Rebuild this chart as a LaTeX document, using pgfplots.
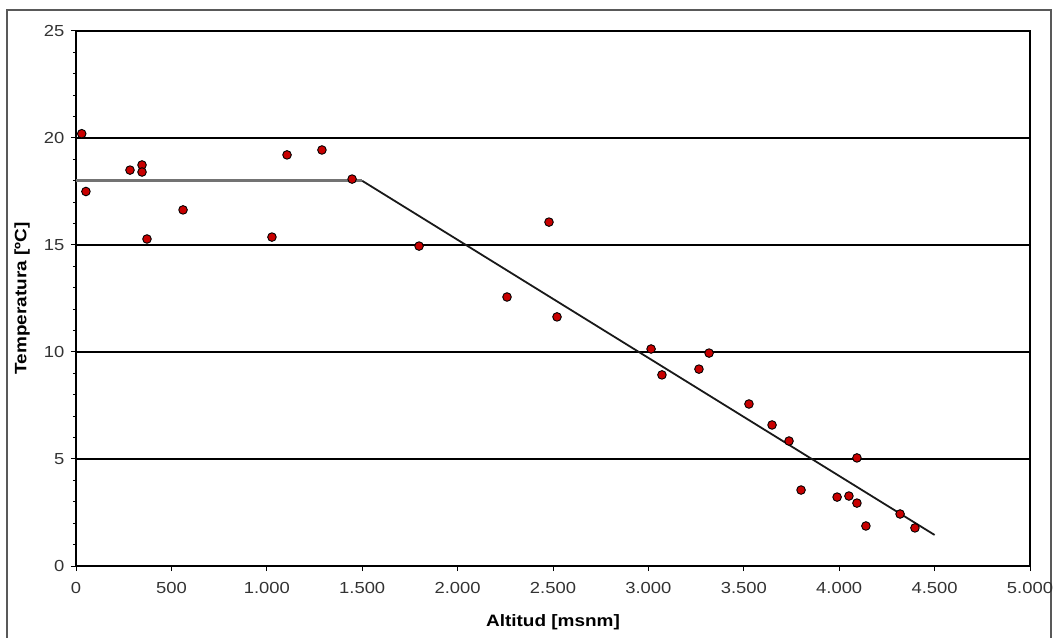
\documentclass[border=0pt]{standalone}
\usepackage{fontspec}
\setmainfont[FakeStretch=1.15]{Liberation Sans}
\usepackage{pgfplots}
\pgfplotsset{compat=1.18}
\definecolor{punto}{RGB}{200,0,0}

\begin{document}
\begin{tikzpicture}
\useasboundingbox (0,0) rectangle (1054pt,637pt);
\draw[line width=1.2pt, black!65] (7pt,-20pt) rectangle (1051pt,627pt);
\begin{axis}[
  at={(76pt,71pt)}, anchor=south west,
  scale only axis, width=954pt, height=535pt,
  xmin=0, xmax=5000, ymin=0, ymax=25,
  xtick={0,500,...,5000}, ytick={0,5,...,25},
  minor y tick num=4,
  xtick pos=left, ytick pos=left,
  tick align=outside,
  major tick length=5pt, minor tick length=3pt,
  tick style={black, line width=1pt},
  axis line style={line width=1.5pt},
  ymajorgrids, grid style={black, line width=1.3pt},
  /pgf/number format/1000 sep={.},
  /pgf/number format/assume math mode=true,
  tick label style={font=\fontsize{16}{18}\selectfont, text=black!80},
  xticklabel style={yshift=-8pt},
  yticklabel style={xshift=-3pt},
  xlabel={Altitud [msnm]},
  ylabel={Temperatura [ºC]},
  every axis x label/.style={at={(axis description cs:0.5,-0.1047)}, anchor=center,
    font=\fontsize{16.5}{19}\selectfont\bfseries},
  every axis y label/.style={at={(axis description cs:-0.0566,0.5)}, rotate=90, anchor=center,
    font=\fontsize{16.5}{19}\selectfont\bfseries},
  clip=false,
]
% tramo horizontal
\addplot[black!55, line width=3pt] coordinates {(0,18) (1500,18)};
% tramo con pendiente
\addplot[black!90, line width=1.8pt] coordinates {(1500,18) (4500,1.45)};
% estaciones
\addplot[only marks, mark=*, mark size=4.3pt,
  mark options={fill=punto, draw=black, line width=0.9pt}]
coordinates {
(30,20.2) (52,17.5) (283,18.5) (346,18.74) (346,18.41) (372,15.28)
(561,16.64) (1027,15.37) (1106,19.21) (1289,19.44) (1447,18.08)
(1798,14.95) (2259,12.57) (2479,16.07) (2521,11.64) (3014,10.14)
(3071,8.93) (3265,9.2) (3318,9.95) (3527,7.57) (3648,6.59)
(3737,5.84) (3800,3.55) (3989,3.22) (4051,3.27) (4093,5.05)
(4093,2.94) (4140,1.87) (4319,2.43) (4397,1.78)
};
\end{axis}
\end{tikzpicture}
\end{document}
